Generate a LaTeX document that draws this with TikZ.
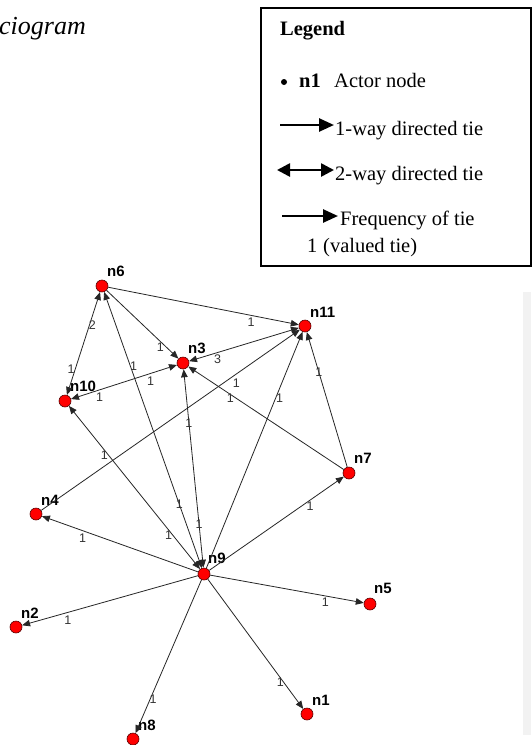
\documentclass[tikz,border=0pt]{standalone}
\usepackage{fontspec}
\setmainfont{Liberation Serif}
\setsansfont{Liberation Sans}
\usetikzlibrary{arrows.meta}
\begin{document}
\begin{tikzpicture}[x=1pt,y=-1pt,
  actor/.style={circle, fill=red, draw=red!35!black, line width=0.6pt, minimum size=12pt, inner sep=0pt},
  nlab/.style={font=\sffamily\bfseries\fontsize{15}{15}\selectfont, anchor=west, inner sep=0pt},
  tie/.style={draw=black!85, line width=0.8pt, -{Triangle[length=8pt,width=6.5pt]}},
  tie2/.style={draw=black!85, line width=0.8pt, {Triangle[length=8pt,width=6.5pt]}-{Triangle[length=8pt,width=6.5pt]}},
  val/.style={font=\sffamily\fontsize{12.5}{12.5}\selectfont, text=black!80, inner sep=0pt},
  legtext/.style={font=\fontsize{20.5}{24}\selectfont, anchor=base west, inner sep=0pt},
  legbold/.style={font=\bfseries\fontsize{20.5}{24}\selectfont, anchor=base west, inner sep=0pt},
  legarrow/.style={line width=2.6pt, -{Triangle[length=15pt,width=13pt]}},
  legarrowtwo/.style={line width=2.6pt, {Triangle[length=13pt,width=13pt]}-{Triangle[length=13pt,width=13pt]}}
]
\useasboundingbox (0,0) rectangle (531,745);
\fill[white] (0,0) rectangle (531,745);
\fill[black!5] (523,292) rectangle (531,735);

% title fragment
\node[font=\itshape\fontsize{26}{30}\selectfont, anchor=base west, inner sep=0pt] (title) at (-1,34) {ciogram};

% legend
\node[draw, line width=2pt, minimum width=269.5pt, minimum height=258.5pt, anchor=north west, inner sep=0pt] (legendbox) at (260,6.5) {};
\node[legbold] (legtitle) at (280,35) {Legend};
\node[circle, fill=black, inner sep=0pt, minimum size=6pt] (bullet) at (284,82) {};
\node[legbold] (legn1) at (299,87) {n1};
\node[legtext] (legactor) at (334,87) {Actor node};
\coordinate (a1s) at (280,125); \coordinate (a1e) at (334,125);
\draw[legarrow] (a1s) -- (a1e);
\node[legtext] (legone) at (335,135) {1-way directed tie};
\coordinate (a2s) at (277,170); \coordinate (a2e) at (334,170);
\draw[legarrowtwo] (a2s) -- (a2e);
\node[legtext] (legtwo) at (335,180) {2-way directed tie};
\coordinate (a3s) at (282,216); \coordinate (a3e) at (338,216);
\draw[legarrow] (a3s) -- (a3e);
\node[legtext] (legfreq) at (340,225) {Frequency of tie};
\node[legtext] (legval) at (307,252) {1};
\node[legtext] (legvalued) at (323,252) {(valued tie)};

% actors
\node[actor] (n1) at (307,714) {};
\node[actor] (n2) at (16,627) {};
\node[actor] (n3) at (183,363) {};
\node[actor] (n4) at (36,514) {};
\node[actor] (n5) at (370,604) {};
\node[actor] (n6) at (102,286) {};
\node[actor] (n7) at (349,473) {};
\node[actor] (n8) at (133,739) {};
\node[actor] (n9) at (204,574) {};
\node[actor] (n10) at (65,401) {};
\node[actor] (n11) at (305,326) {};

\node[nlab] (l1) at (312,700) {n1};
\node[nlab] (l2) at (21,613) {n2};
\node[nlab] (l3) at (188,348) {n3};
\node[nlab] (l4) at (41,500) {n4};
\node[nlab] (l5) at (374,588) {n5};
\node[nlab] (l6) at (107,271) {n6};
\node[nlab] (l7) at (354,458) {n7};
\node[nlab] (l8) at (138,725) {n8};
\node[nlab] (l9) at (208,558) {n9};
\node[nlab] (l10) at (70,386) {n10};
\node[nlab] (l11) at (310,312) {n11};

% ties
\draw[tie] (n6) -- (n11) node[val,pos=0.75,yshift=-7pt]{1};
\draw[tie] (n6) -- (n3) node[val,pos=0.75,yshift=-6pt]{1};
\draw[tie2] (n10) -- (n6) node[val,pos=0.68,xshift=3pt]{2} node[val,pos=0.25,xshift=-4pt]{1};
\draw[tie2] (n10) -- (n3) node[val,pos=0.27,yshift=-7pt]{1} node[val,pos=0.75,yshift=-8pt]{1};
\draw[tie2] (n3) -- (n11) node[val,pos=0.26,yshift=-7pt]{3};
\draw[tie] (n4) -- (n11) node[val,pos=0.755,yshift=-9pt]{1};
\draw[tie] (n7) -- (n3) node[val,pos=0.73,yshift=-4pt]{1};
\draw[tie] (n7) -- (n11) node[val,pos=0.70]{1};
\draw[tie] (n9) -- (n11) node[val,pos=0.72,xshift=4pt]{1};
\draw[tie] (n9) -- (n7) node[val,pos=0.75,yshift=-6pt]{1};
\draw[tie] (n9) -- (n5) node[val,pos=0.75,yshift=-6pt]{1};
\draw[tie] (n9) -- (n1) node[val,pos=0.76,yshift=-4pt]{1};
\draw[tie] (n9) -- (n8) node[val,pos=0.78,xshift=3pt]{1};
\draw[tie] (n9) -- (n2) node[val,pos=0.74,yshift=-8pt]{1};
\draw[tie] (n9) -- (n4) node[val,pos=0.74,yshift=-8pt]{1};
\draw[tie2] (n6) -- (n9) node[val,pos=0.27,xshift=3pt]{1} node[val,pos=0.77]{1};
\draw[tie2] (n10) -- (n9) node[val,pos=0.3,xshift=-4pt]{1} node[val,pos=0.79,xshift=-4pt]{1};
\draw[tie2] (n3) -- (n9) node[val,pos=0.27]{1} node[val,pos=0.78]{1};
\end{tikzpicture}
\end{document}
